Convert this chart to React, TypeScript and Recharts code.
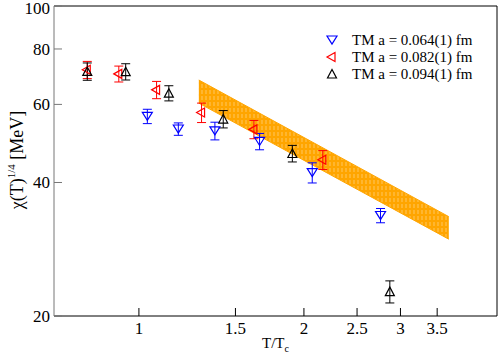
import {
  ComposedChart,
  XAxis,
  YAxis,
  Area,
  Scatter,
  ErrorBar,
  Legend,
} from "recharts";

const xTicks = [1, 1.5, 2, 2.5, 3, 3.5];
const yTicks = [20, 40, 60, 80, 100];

// a = 0.064(1) fm
const blueT = [1.036, 1.18, 1.376, 1.66, 2.071, 2.759];
const blueV = [56.4, 52.8, 52.3, 49.5, 42.1, 33.7];
const blueE = [2.1, 1.7, 2.4, 2.1, 2.2, 1.25];

// a = 0.082(1) fm
const redT = [0.805, 0.919, 1.077, 1.301, 1.621, 2.165];
const redV = [71.8, 70.3, 64.7, 57.5, 52.7, 45.0];
const redE = [3.2, 2.9, 2.9, 2.9, 2.5, 2.2];

// a = 0.094(1) fm
const blackT = [0.805, 0.946, 1.134, 1.425, 1.905, 2.869];
const blackV = [71.2, 71.1, 63.6, 55.6, 46.5, 22.7];
const blackE = [3.2, 3.0, 2.5, 2.5, 2.0, 1.3];

// power-law band
const bandT = [1.286, 3.675];
const bandLo = [60.4, 29.8];
const bandHi = [68.1, 33.5];

const toPoints = (t: number[], v: number[], e: number[]) =>
  t.map((x, i) => ({ t: x, v: v[i], e: e[i] }));

const bandData = bandT.map((t, i) => ({ t, lo: bandLo[i], hi: bandHi[i] }));

const FONT = "'Liberation Serif', 'Times New Roman', serif";

const DownTri = ({ cx, cy, color }: any) => (
  <polygon
    points={`${cx - 5},${cy - 4} ${cx + 5},${cy - 4} ${cx},${cy + 4}`}
    fill="none"
    stroke={color}
    strokeWidth={1.2}
  />
);
const LeftTri = ({ cx, cy, color }: any) => (
  <polygon
    points={`${cx - 5},${cy} ${cx + 3},${cy - 4.5} ${cx + 3},${cy + 4.5}`}
    fill="none"
    stroke={color}
    strokeWidth={1.2}
  />
);
const UpTri = ({ cx, cy, color }: any) => (
  <polygon
    points={`${cx},${cy - 4.5} ${cx - 4.5},${cy + 4} ${cx + 4.5},${cy + 4}`}
    fill="none"
    stroke={color}
    strokeWidth={1.2}
  />
);

const YTitle = () => (
  <text
    x={23}
    y={160}
    transform="rotate(-90, 23, 160)"
    textAnchor="middle"
    fontFamily={FONT}
    fontSize={18}
    fill="#000"
  >
    χ(T)
    <tspan dy={-8} fontSize={11}>
      1/4
    </tspan>
    <tspan dy={8}> [MeV]</tspan>
  </text>
);

const XTitle = () => (
  <text x={262} y={348} fontFamily={FONT} fontSize={15} fill="#000">
    T/T
    <tspan dy={4} fontSize={10}>
      c
    </tspan>
  </text>
);

// left tick labels; the top one is kept inside the picture
const YTick = ({ x, y, payload }: any) => (
  <text
    x={x}
    y={Math.max(y, 7.5)}
    dy={6}
    textAnchor="end"
    fontFamily={FONT}
    fontSize={17}
    fill="#000"
  >
    {payload.value}
  </text>
);

const legendRows = [
  { label: "TM a = 0.064(1) fm", color: "#0000ff", Shape: DownTri },
  { label: "TM a = 0.082(1) fm", color: "#ff0000", Shape: LeftTri },
  { label: "TM a = 0.094(1) fm", color: "#000000", Shape: UpTri },
];

const LegendBox = () => (
  <svg width={170} height={56}>
    {legendRows.map((r, i) => (
      <g key={r.label}>
        <r.Shape cx={10} cy={10 + i * 17} color={r.color} />
        <text
          x={30}
          y={15 + i * 17}
          fontFamily={FONT}
          fontSize={15}
          fill="#000"
        >
          {r.label}
        </text>
      </g>
    ))}
  </svg>
);

const tickStyle = { fill: "#000", fontSize: 17, fontFamily: FONT };

export default function App() {
  return (
    <div style={{ position: "absolute", left: 0, top: 0, background: "#fff" }}>
      <ComposedChart
        width={498}
        height={354}
        data={bandData}
        margin={{ top: 5, right: 0, bottom: 37, left: 53 }}
      >
        <defs>
          <pattern id="hatch" width="4" height="6" patternUnits="userSpaceOnUse">
            <rect width="4" height="6" fill="#ffa500" />
            <line x1="2" y1="0" x2="2" y2="4" stroke="#ffc860" strokeWidth="1" />
          </pattern>
        </defs>
        <XAxis
          dataKey="t"
          type="number"
          scale="log"
          domain={[0.7, 4.5]}
          ticks={xTicks}
          interval={0}
          allowDataOverflow
          height={1}
          tickSize={-8}
          tickMargin={14}
          tick={tickStyle}
          stroke="#000"
          label={<XTitle />}
        />
        <XAxis
          xAxisId="top"
          orientation="top"
          type="number"
          scale="log"
          domain={[0.7, 4.5]}
          ticks={xTicks}
          interval={0}
          allowDataOverflow
          height={1}
          tickSize={-8}
          tick={false}
          stroke="#000"
        />
        <YAxis
          type="number"
          scale="log"
          domain={[20, 100]}
          ticks={yTicks}
          interval={0}
          allowDataOverflow
          width={1}
          tickSize={-8}
          tickMargin={12}
          tick={<YTick />}
          stroke="#777"
          label={<YTitle />}
        />
        <YAxis
          yAxisId="right"
          orientation="right"
          type="number"
          scale="log"
          domain={[20, 100]}
          ticks={yTicks}
          interval={0}
          allowDataOverflow
          width={1}
          tickSize={-8}
          tick={false}
          stroke="#000"
        />
        <Area
          type="linear"
          dataKey={(d: any) => [d.lo, d.hi]}
          stroke="#ffa500"
          strokeWidth={1}
          fill="url(#hatch)"
          fillOpacity={1}
          isAnimationActive={false}
        />
        <Scatter
          data={toPoints(blueT, blueV, blueE)}
          dataKey="v"
          shape={(p: any) => <DownTri cx={p.cx} cy={p.cy} color="#0000ff" />}
          isAnimationActive={false}
        >
          <ErrorBar dataKey="e" direction="y" width={4.5} stroke="#0000ff" strokeWidth={1} />
        </Scatter>
        <Scatter
          data={toPoints(redT, redV, redE)}
          dataKey="v"
          shape={(p: any) => <LeftTri cx={p.cx} cy={p.cy} color="#ff0000" />}
          isAnimationActive={false}
        >
          <ErrorBar dataKey="e" direction="y" width={4.5} stroke="#ff0000" strokeWidth={1} />
        </Scatter>
        <Scatter
          data={toPoints(blackT, blackV, blackE)}
          dataKey="v"
          shape={(p: any) => <UpTri cx={p.cx} cy={p.cy} color="#000000" />}
          isAnimationActive={false}
        >
          <ErrorBar dataKey="e" direction="y" width={4.5} stroke="#000000" strokeWidth={1} />
        </Scatter>
        <Legend
          layout="horizontal"
          verticalAlign="middle"
          align="center"
          wrapperStyle={{ top: 30, left: 322, width: 170 }}
          content={() => <LegendBox />}
        />
      </ComposedChart>
    </div>
  );
}
